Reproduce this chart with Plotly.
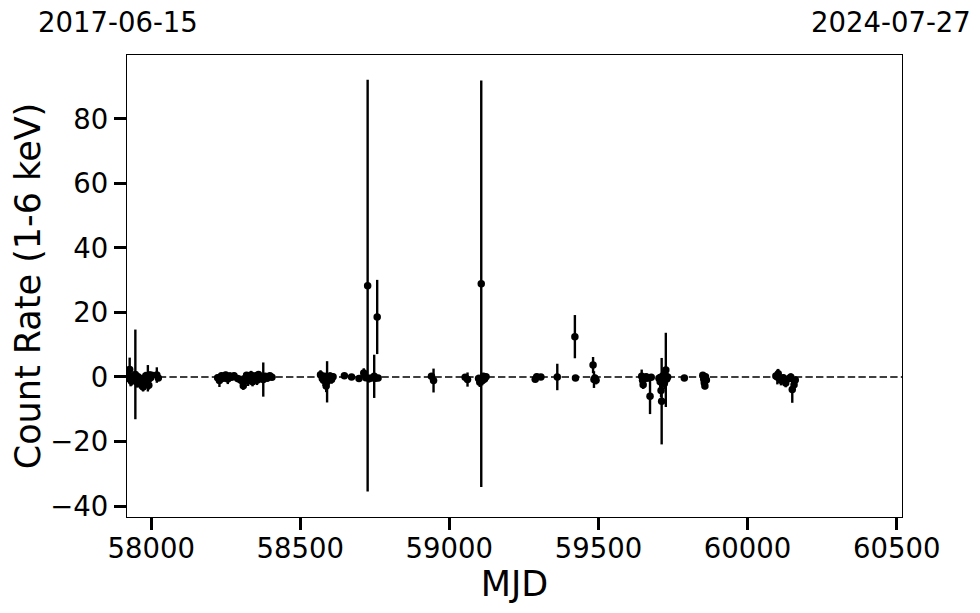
import plotly.graph_objects as go

# MJD, count rate (1-6 keV), 1-sigma error
mjd = [
    57922, 57925, 57928, 57931, 57934, 57938, 57941, 57947, 57950, 57953,
    57956, 57960, 57963, 57966, 57970, 57973, 57976, 57979, 57982, 57985,
    57989, 57992, 57995, 57998, 58002, 58019, 58024,
    58223, 58229, 58236, 58243, 58250, 58257, 58264, 58270, 58278, 58290,
    58300, 58309, 58315, 58320, 58325, 58330, 58335, 58340, 58345, 58350,
    58355, 58360, 58365, 58376, 58382, 58390, 58398, 58405,
    58568, 58574, 58578, 58582, 58587, 58590, 58595, 58600, 58605, 58610,
    58648, 58672, 58697, 58713, 58720, 58726, 58731, 58740, 58748, 58752,
    58758, 58761,
    58940, 58947, 59053, 59061,
    59098, 59102, 59107, 59110, 59114, 59118, 59123,
    59288, 59293, 59307, 59362, 59421, 59423, 59482, 59485, 59488, 59492,
    59645, 59648, 59650, 59655, 59660, 59665, 59673, 59677,
    59703, 59707, 59710, 59712, 59715, 59718, 59721, 59724, 59726, 59729, 59732,
    59788, 59850, 59853, 59855, 59857, 59859, 59862,
    60095, 60100, 60103, 60107, 60112, 60120, 60128, 60140, 60145, 60150,
    60156, 60160,
]
rate = [
    -0.3, 0.5, 2.3, -0.9, -1.3, 0.2, -0.6, 0.8, -0.4, -1.6,
    0.1, -1.0, -2.2, -0.5, -1.3, -3.1, -0.8, -2.0, 0.4, -1.1,
    -0.4, -2.6, 0.6, -0.2, 0.5, 0.6, -0.3,
    -0.2, -1.1, 0.4, -0.3, 0.6, -0.6, 0.3, -0.1, 0.4, -0.5,
    -0.9, -2.7, -0.4, 0.5, -1.2, -0.2, 0.6, -1.5, -0.6, 0.3,
    -1.0, 0.8, -0.4, -0.8, 0.2, -0.3, 0.4, -0.1,
    0.7, -0.5, -1.0, 0.2, -2.8, -1.5, -0.6, 0.3, -0.8, 0.1,
    0.4, 0.0, -0.5, 1.2, -0.2, 28.3, -0.5, -0.3, 0.2, -0.4,
    18.6, -0.3,
    0.2, -1.1, -0.1, -0.8,
    -0.5, -1.6, 28.9, -1.2, 0.2, -0.6, 0.1,
    -0.7, 0.1, 0.0, 0.0, 12.5, -0.3, 3.7, -0.8, -0.3, -1.0,
    0.2, -1.0, -2.4, -0.5, 0.1, -0.3, -6.0, -0.1,
    -0.4, -1.5, -4.2, -7.5, 0.3, -0.8, -2.0, 0.5, 2.2, -0.6, 0.0,
    -0.3, 0.5, -0.6, -1.8, -2.8, 0.1, -0.9,
    0.3, 0.0, 1.0, -0.4, -1.0, -0.2, -1.9, -0.5, 0.0, -3.9,
    -2.4, -0.9,
]
err = [
    1.2, 1.6, 3.7, 2.0, 1.4, 1.1, 1.3, 13.9, 1.5, 1.7,
    1.0, 1.2, 1.4, 1.1, 1.6, 1.4, 1.0, 1.8, 1.2, 1.5,
    4.1, 1.3, 1.1, 1.4, 0.9, 2.4, 0.7,
    1.0, 2.0, 0.9, 1.2, 1.0, 1.6, 1.1, 0.8, 1.0, 1.1,
    1.3, 1.3, 1.5, 1.0, 1.6, 1.2, 1.3, 1.4, 1.7, 1.2,
    1.5, 1.0, 1.3, 5.3, 1.0, 1.2, 0.8, 0.6,
    1.4, 1.2, 1.8, 1.0, 1.9, 6.4, 1.4, 1.1, 1.3, 0.9,
    0.6, 0.5, 0.6, 1.5, 1.0, 63.8, 1.2, 0.9, 6.7, 1.0,
    11.5, 0.8,
    0.8, 3.7, 1.0, 2.2,
    1.2, 1.5, 63.0, 1.4, 1.0, 1.1, 0.8,
    0.8, 0.9, 0.6, 4.1, 6.7, 0.9, 2.5, 2.6, 1.0, 1.3,
    2.1, 1.2, 1.3, 1.0, 0.9, 1.1, 5.5, 0.8,
    1.3, 1.7, 2.0, 13.4, 1.5, 1.2, 1.8, 1.0, 11.5, 1.4, 1.0,
    0.6, 0.9, 1.3, 1.4, 1.0, 1.0, 1.1,
    1.0, 2.3, 1.5, 1.2, 1.6, 1.0, 1.3, 0.9, 1.1, 4.1,
    1.5, 1.0,
]

x_range = [57919, 60518]
x_ticks = [58000, 58500, 59000, 59500, 60000, 60500]
y_range = [-43.4, 99.8]
y_ticks = [-40, -20, 0, 20, 40, 60, 80]
start_label = "2017-06-15"
end_label = "2024-07-27"

FONT = "DejaVu Sans"
TICK = 27.5
TITLE = 35

fig = go.Figure()
fig.add_trace(go.Scatter(
    x=mjd, y=rate, mode="markers",
    marker=dict(color="black", size=7.5),
    error_y=dict(type="data", array=err, visible=True, color="black",
                 thickness=2.4, width=0),
    showlegend=False,
))

fig.add_shape(type="line", xref="paper", x0=0, x1=1, yref="y", y0=0, y1=0,
              line=dict(color="black", width=1.5, dash="7.4px,3.2px"), layer="below")

axis_common = dict(
    showline=True, linecolor="black", linewidth=1.3, mirror=True,
    ticks="outside", ticklen=12, tickwidth=2.5, tickcolor="black",
    showgrid=False, zeroline=False, automargin=False,
    tickfont=dict(family=FONT, size=TICK, color="black"),
)

fig.update_layout(
    width=972, height=605,
    margin=dict(l=119, r=78, t=47, b=96),
    plot_bgcolor="white", paper_bgcolor="white",
    font=dict(family=FONT, color="black"),
    xaxis=dict(range=x_range, tickvals=x_ticks, tickformat="d", ticklabelstandoff=-5,
               title=dict(text="MJD", font=dict(family=FONT, size=TITLE), standoff=2),
               **axis_common),
    yaxis=dict(range=y_range, tickvals=y_ticks, tickformat="d",
               title=dict(text="Count Rate (1-6 keV)", font=dict(family=FONT, size=TITLE), standoff=0),
               **axis_common),
    annotations=[
        dict(text=start_label, xref="paper", yref="paper", x=-0.117, y=1.0714,
             xanchor="left", yanchor="middle", showarrow=False,
             font=dict(family=FONT, size=TICK, color="black")),
        dict(text=end_label, xref="paper", yref="paper", x=1.092, y=1.0714,
             xanchor="right", yanchor="middle", showarrow=False,
             font=dict(family=FONT, size=TICK, color="black")),
    ],
)

fig.write_html("out.html")
